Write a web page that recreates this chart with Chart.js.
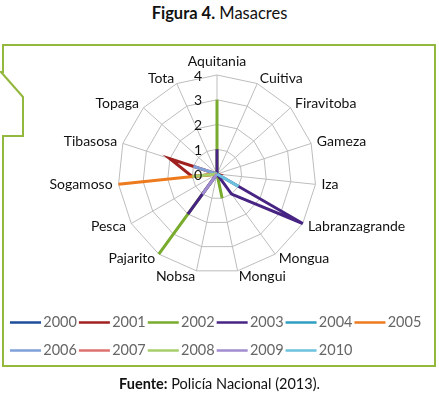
<!DOCTYPE html>
<html>
<head>
<meta charset="utf-8">
<script src="https://cdn.jsdelivr.net/npm/chart.js@4.4.1/dist/chart.umd.min.js"></script>
<style>
  body { margin: 0; background: #fff; width: 439px; height: 398px; position: relative; overflow: hidden; font-family: Lato, "Liberation Sans", sans-serif; color: #111; }
  #title { position: absolute; top: 3px; left: 0; width: 439px; text-align: center; font-size: 16.5px; }
  #source { position: absolute; top: 375px; left: 0; width: 439px; text-align: center; font-size: 14.5px; }
  #frame, #chart { position: absolute; left: 0; top: 0; }
</style>
</head>
<body>
<div id="title"><b>Figura 4.</b> Masacres</div>
<svg id="frame" width="439" height="398"><path d="M3,366 V136 H23 V97 L1,72 L3,72 V45 H435 V366 Z" fill="none" stroke="#93b83e" stroke-width="2"/></svg>
<canvas id="chart" width="439" height="398"></canvas>
<div id="source"><b>Fuente:</b> Policía Nacional (2013).</div>
<script>
// Municipios (ejes del radar)
const municipios = ["Aquitania", "Cuitiva", "Firavitoba", "Gameza", "Iza", "Labranzagrande", "Mongua",
  "Mongui", "Nobsa", "Pajarito", "Pesca", "Sogamoso", "Tibasosa", "Topaga", "Tota"];

// Masacres por año, en el orden de municipios
const m2000 = [0, 0, 0, 0, 0, 0, 0, 0, 0, 0, 0, 0, 0, 0, 0];
const m2001 = [0, 0, 0, 0, 0, 0, 0, 0, 0, 0, 0, 1, 2, 0, 0];
const m2002 = [3, 0, 0, 0, 0, 0, 0, 1, 0, 4, 0, 0, 0, 0, 0];
const m2003 = [1, 0, 0, 0, 0, 4, 1, 0, 0, 2, 0, 0, 0, 0, 0];
const m2004 = [0, 0, 0, 0, 0, 0, 0, 0, 0, 0, 0, 0, 0, 0, 0];
const m2005 = [0, 0, 0, 0, 0, 0, 0, 0, 0, 0, 0, 4, 0, 0, 0];
const m2006 = [0, 0, 0, 0, 0, 0, 0, 0, 0, 0, 0, 0, 1, 0, 0];
const m2007 = [0, 0, 0, 0, 0, 0, 0, 0, 0, 0, 0, 0, 0, 0, 0];
const m2008 = [0, 0, 0, 0, 0, 0, 0, 0, 0, 0, 0, 1, 0, 0, 0];
const m2009 = [0, 0, 0, 0, 0, 0, 0, 0, 0, 1, 0, 0, 0, 0, 0];
const m2010 = [0, 0, 0, 0, 0, 1, 0, 0, 0, 0, 0, 0, 0, 0, 0];

const years = ["2000", "2001", "2002", "2003", "2004", "2005", "2006", "2007", "2008", "2009", "2010"];
const series = [m2000, m2001, m2002, m2003, m2004, m2005, m2006, m2007, m2008, m2009, m2010];
const colors = ["#1d4e9b", "#a02020", "#78ab2e", "#472483", "#2e9fc0", "#ee7a1e",
  "#7fa0d8", "#df7070", "#a6cf6c", "#a08ccf", "#6cc2dc"];

const FONT = "Lato, 'Liberation Sans', sans-serif";

// etiquetas de municipios, valores del eje y muestras de línea en la leyenda
const radarText = {
    id: "radarText",
    afterDatasetsDraw(chart) {
        const ctx = chart.ctx;
        const scale = chart.scales.r;
        ctx.save();
        ctx.fillStyle = "#111";
        ctx.font = "14px " + FONT;
        ctx.textBaseline = "middle";
        // valores del eje, a la izquierda del eje de Aquitania
        ctx.textAlign = "right";
        scale.ticks.forEach(t => {
            const y = scale.yCenter - scale.getDistanceFromCenterForValue(t.value);
            ctx.fillText(String(t.value), scale.xCenter - 15, y + 1);
        });
        // municipios
        chart.data.labels.forEach((label, i) => {
            const pos = scale.getPointPosition(i, scale.drawingArea + 6);
            const deg = Math.round(scale.getIndexAngle(i) * 180 / Math.PI) % 360;
            let y = pos.y;
            if (deg === 0) {
                ctx.textAlign = "center";
                y -= 8;
            } else if (deg < 180) {
                ctx.textAlign = "left";
            } else {
                ctx.textAlign = "right";
            }
            ctx.fillText(label, pos.x, y);
        });
        ctx.restore();
    },
    afterDraw(chart) {
        const legend = chart.legend;
        const ctx = chart.ctx;
        const bw = legend.options.labels.boxWidth;
        ctx.save();
        ctx.lineWidth = 2.5;
        legend.legendHitBoxes.forEach((box, i) => {
            const item = legend.legendItems[i];
            ctx.strokeStyle = colors[item.datasetIndex];
            const y = Math.round(box.top + box.height / 2) + 0.5;
            ctx.beginPath();
            ctx.moveTo(box.left, y);
            ctx.lineTo(box.left + bw + 5, y);
            ctx.stroke();
        });
        ctx.restore();
    }
};

new Chart(document.getElementById("chart"), {
    type: "radar",
    data: {
        labels: municipios,
        datasets: years.map((y, i) => ({
            label: y,
            data: series[i],
            borderColor: colors[i],
            backgroundColor: "transparent",
            borderWidth: 3,
            pointRadius: 0,
            fill: false,
            order: years.length - i
        }))
    },
    options: {
        responsive: false,
        animation: false,
        devicePixelRatio: 1,
        layout: { padding: { top: 75, left: 8, right: 12, bottom: 25 } },
        scales: {
            r: {
                min: 0,
                max: 4,
                ticks: { stepSize: 1, display: false },
                pointLabels: { display: false },
                grid: { color: "#bdbdbd", lineWidth: 1 },
                angleLines: { color: "#bdbdbd", lineWidth: 1 }
            }
        },
        plugins: {
            tooltip: { enabled: false },
            legend: {
                position: "bottom",
                align: "start",
                title: { display: true, text: "", font: { size: 10 }, padding: { top: 22, bottom: 0 } },
                labels: {
                    boxWidth: 26,
                    boxHeight: 26,
                    padding: 2,
                    color: "#111",
                    font: { family: FONT, size: 14.5 },
                    generateLabels: chart => chart.data.datasets.map((ds, i) => ({
                        text: ds.label,
                        fillStyle: "rgba(0,0,0,0)",
                        strokeStyle: "rgba(0,0,0,0)",
                        lineWidth: 0,
                        hidden: false,
                        datasetIndex: i
                    }))
                }
            }
        }
    },
    plugins: [radarText]
});
</script>
</body>
</html>
